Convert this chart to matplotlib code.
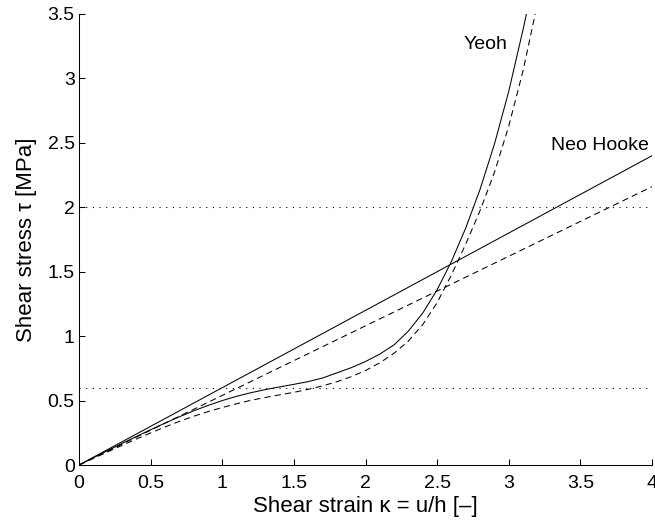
import matplotlib
matplotlib.use("Agg")
import matplotlib.pyplot as plt

plt.rcParams['font.family'] = ['Liberation Sans', 'DejaVu Sans']

# Shear strain and stress for the two material models (solid / dashed variants)
neo_strain = [0.0, 4.0]
neo_solid = [0.0, 2.40]
neo_dashed = [0.0, 2.16]

yeoh_strain = [0.0, 0.1, 0.2, 0.3, 0.4, 0.5, 0.6, 0.7, 0.8, 0.9, 1.0,
               1.1, 1.2, 1.3, 1.4, 1.5, 1.6, 1.7, 1.8, 1.9, 2.0,
               2.1, 2.2, 2.3, 2.4, 2.5, 2.6, 2.7, 2.8, 2.9, 3.0,
               3.1, 3.2]
yeoh_solid = [0.0, 0.056, 0.112, 0.167, 0.221, 0.274, 0.325, 0.374, 0.420, 0.462, 0.500,
              0.533, 0.561, 0.585, 0.606, 0.626, 0.647, 0.675, 0.715, 0.755, 0.803,
              0.861, 0.933, 1.04, 1.18, 1.36, 1.58, 1.84, 2.14, 2.49, 2.90,
              3.38, 3.90]
yeoh_dashed = [0.0, 0.051, 0.102, 0.152, 0.201, 0.249, 0.295, 0.338, 0.378, 0.414, 0.446,
               0.475, 0.502, 0.524, 0.544, 0.564, 0.587, 0.614, 0.646, 0.685, 0.733,
               0.793, 0.868, 0.963, 1.09, 1.26, 1.475, 1.715, 1.975, 2.27, 2.63,
               3.06, 3.58]

# Reference stress levels
limit_levels = [0.6, 2.0]

x_ticks = [0, 0.5, 1, 1.5, 2, 2.5, 3, 3.5, 4]
x_ticklabels = ['0', '0.5', '1', '1.5', '2', '2.5', '3', '3.5', '4']
y_ticks = [0, 0.5, 1, 1.5, 2, 2.5, 3, 3.5]
y_ticklabels = ['0', '0.5', '1', '1.5', '2', '2.5', '3', '3.5']

fig = plt.figure(figsize=(6.55, 5.22), dpi=100)
ax = fig.add_axes([79 / 655, 1 - 465 / 522, (652 - 79) / 655, (465 - 14) / 522])

lw = 0.75
dash = (0, (6, 4))
ax.plot(neo_strain, neo_solid, color='black', lw=lw)
ax.plot(neo_strain, neo_dashed, color='black', lw=lw, linestyle=dash)
ax.plot(yeoh_strain, yeoh_solid, color='black', lw=lw)
ax.plot(yeoh_strain, yeoh_dashed, color='black', lw=lw, linestyle=dash)
for level in limit_levels:
    ax.plot([0, 4], [level, level], color='black', lw=0.8, linestyle=(0, (1, 5)))

ax.text(2.834, 3.26, 'Yeoh', fontsize=14, ha='center', va='center')
ax.text(3.64, 2.48, 'Neo Hooke', fontsize=14, ha='center', va='center')

ax.set_xlim(0, 4)
ax.set_ylim(0, 3.5)
ax.set_xticks(x_ticks)
ax.set_xticklabels(x_ticklabels)
ax.set_yticks(y_ticks)
ax.set_yticklabels(y_ticklabels)
ax.tick_params(direction='in', length=4, width=0.75, labelsize=14)
ax.tick_params(axis='x', pad=7)
ax.tick_params(axis='y', pad=3)
for side in ('top', 'right'):
    ax.spines[side].set_visible(False)
for side in ('left', 'bottom'):
    ax.spines[side].set_linewidth(0.75)

ax.set_xlabel('Shear strain κ = u/h [–]', fontsize=16, labelpad=3)
ax.set_ylabel('Shear stress τ [MPa]', fontsize=16, labelpad=8)

fig.savefig('out.png', dpi=100)
